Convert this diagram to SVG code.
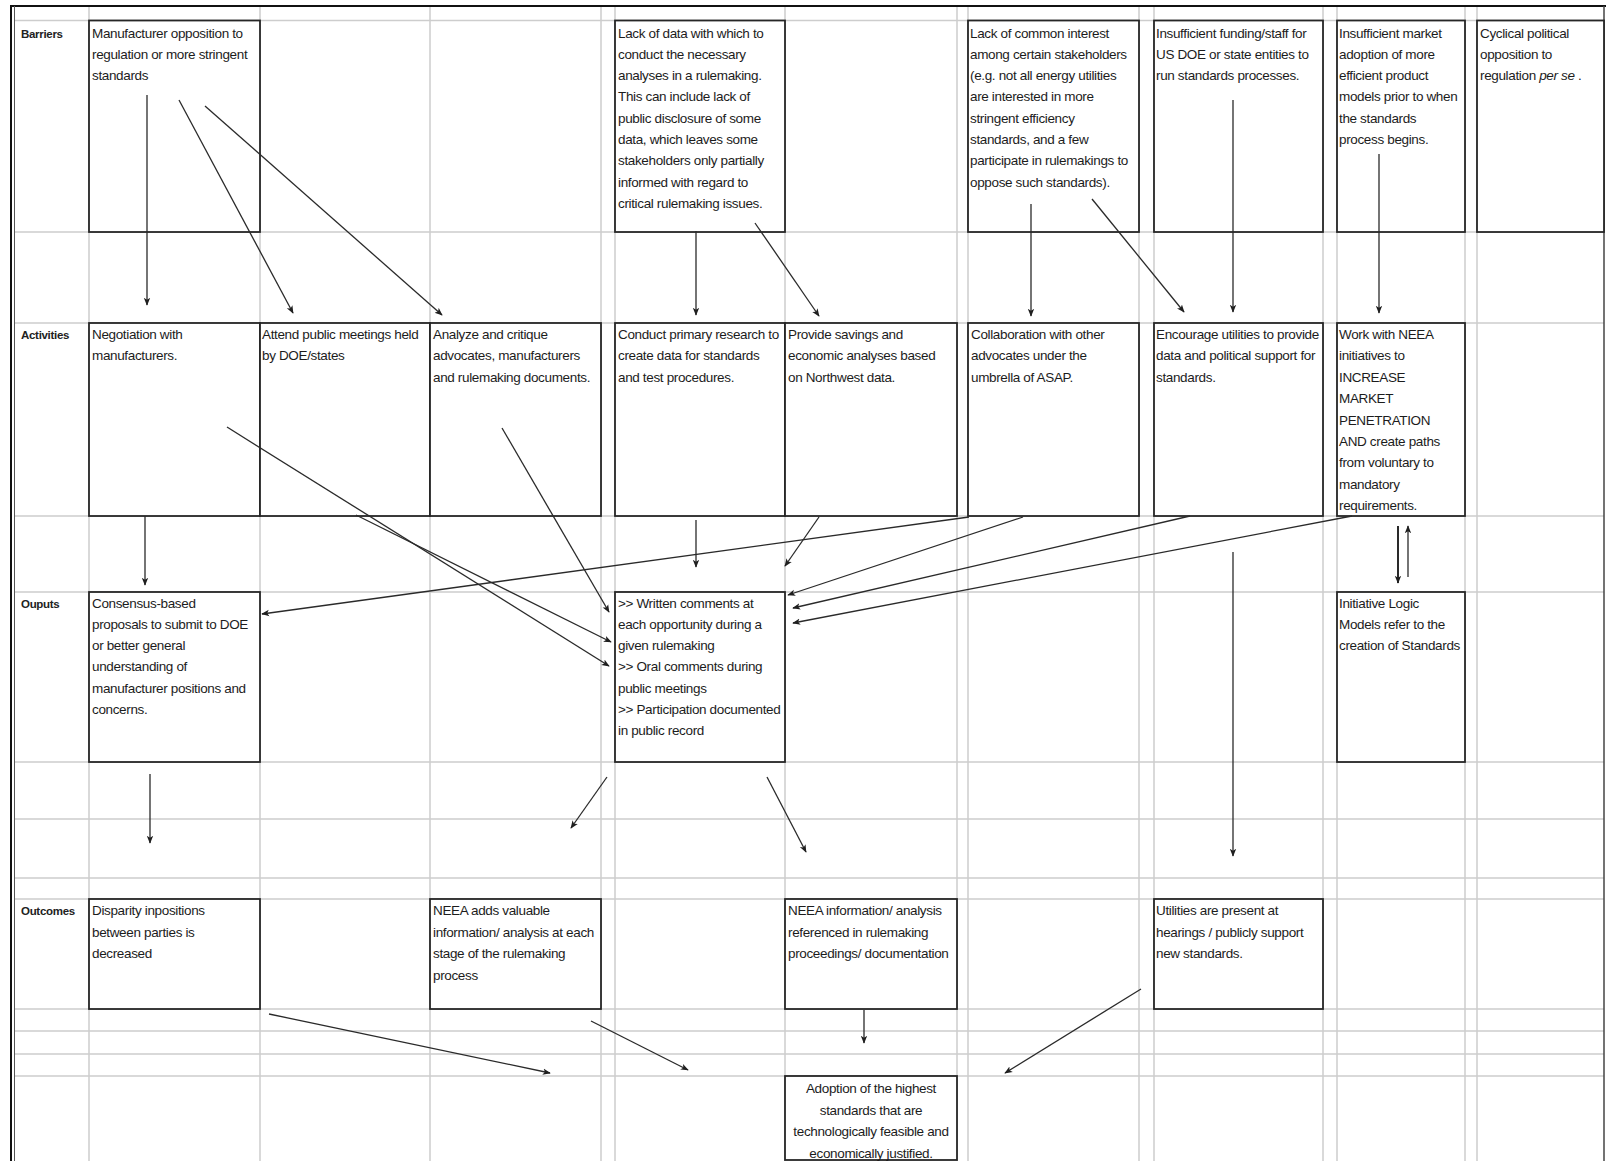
<svg xmlns="http://www.w3.org/2000/svg" width="1606" height="1161" viewBox="0 0 1606 1161">
<style>
.grid line{stroke:#cdcdcd;stroke-width:1.5}
.box{fill:#fff;stroke:#262626;stroke-width:1.8}
.t{font-family:"Liberation Sans",Arial,sans-serif;font-size:13.5px;letter-spacing:-0.35px;fill:#1c1c1c}
.c{text-anchor:middle}
.lbl{font-family:"Liberation Sans",Arial,sans-serif;font-size:11.5px;font-weight:bold;letter-spacing:-0.3px;fill:#222}
.conn line{stroke:#2a2a2a;stroke-width:1.3;fill:none}
.conn line.thick{stroke-width:2}
</style>
<defs>
<marker id="ah" viewBox="0 0 10 10" refX="9" refY="5" markerWidth="8" markerHeight="8" orient="auto" markerUnits="userSpaceOnUse">
<path d="M0,1 L10,5 L0,9 L2.5,5 z" fill="#1f1f1f"/>
</marker>
</defs>
<rect x="0" y="0" width="1606" height="1161" fill="#fff"/>
<g class="grid" id="grid">
<line x1="89" y1="6" x2="89" y2="1161"/>
<line x1="260" y1="6" x2="260" y2="1161"/>
<line x1="430" y1="6" x2="430" y2="1161"/>
<line x1="601" y1="6" x2="601" y2="1161"/>
<line x1="615" y1="6" x2="615" y2="1161"/>
<line x1="785" y1="6" x2="785" y2="1161"/>
<line x1="957" y1="6" x2="957" y2="1161"/>
<line x1="968" y1="6" x2="968" y2="1161"/>
<line x1="1139" y1="6" x2="1139" y2="1161"/>
<line x1="1154" y1="6" x2="1154" y2="1161"/>
<line x1="1323" y1="6" x2="1323" y2="1161"/>
<line x1="1337" y1="6" x2="1337" y2="1161"/>
<line x1="1465" y1="6" x2="1465" y2="1161"/>
<line x1="1477" y1="6" x2="1477" y2="1161"/>
<line x1="14" y1="20.5" x2="1604" y2="20.5"/>
<line x1="14" y1="232" x2="1604" y2="232"/>
<line x1="14" y1="323" x2="1604" y2="323"/>
<line x1="14" y1="516" x2="1604" y2="516"/>
<line x1="14" y1="592" x2="1604" y2="592"/>
<line x1="14" y1="762" x2="1604" y2="762"/>
<line x1="14" y1="819" x2="1604" y2="819"/>
<line x1="14" y1="878" x2="1604" y2="878"/>
<line x1="14" y1="899" x2="1604" y2="899"/>
<line x1="14" y1="1009" x2="1604" y2="1009"/>
<line x1="14" y1="1031" x2="1604" y2="1031"/>
<line x1="14" y1="1054" x2="1604" y2="1054"/>
<line x1="14" y1="1076" x2="1604" y2="1076"/>
</g>
<g id="frame" fill="none">
<line x1="10" y1="6" x2="1606" y2="6" stroke="#111" stroke-width="2"/>
<line x1="11" y1="5" x2="11" y2="1161" stroke="#111" stroke-width="2"/>
<line x1="14.5" y1="6" x2="14.5" y2="1161" stroke="#555" stroke-width="1"/>
<line x1="1604" y1="6" x2="1604" y2="1161" stroke="#444" stroke-width="1.5"/>
</g>
<g id="row-labels" class="lbl">
<text x="21" y="37.5">Barriers</text>
<text x="21" y="338.5">Activities</text>
<text x="21" y="607.5">Ouputs</text>
<text x="21" y="915">Outcomes</text>
</g>
<g id="nodes">
<g id="b1"><rect class="box" x="89" y="20.5" width="171" height="211.5"/>
<text class="t"><tspan x="92" y="37.5">Manufacturer opposition to</tspan><tspan x="92" y="58.8">regulation or more stringent</tspan><tspan x="92" y="80.1">standards</tspan></text></g>
<g id="b2"><rect class="box" x="615" y="20.5" width="170" height="211.5"/>
<text class="t"><tspan x="618" y="37.5">Lack of data with which to</tspan><tspan x="618" y="58.8">conduct the necessary</tspan><tspan x="618" y="80.1">analyses in a rulemaking.</tspan><tspan x="618" y="101.4">This can include lack of</tspan><tspan x="618" y="122.7">public disclosure of some</tspan><tspan x="618" y="144">data, which leaves some</tspan><tspan x="618" y="165.3">stakeholders only partially</tspan><tspan x="618" y="186.6">informed with regard to</tspan><tspan x="618" y="207.9">critical rulemaking issues.</tspan></text></g>
<g id="b3"><rect class="box" x="968" y="20.5" width="171" height="211.5"/>
<text class="t"><tspan x="970" y="37.5">Lack of common interest</tspan><tspan x="970" y="58.8">among certain stakeholders</tspan><tspan x="970" y="80.1">(e.g. not all energy utilities</tspan><tspan x="970" y="101.4">are interested in more</tspan><tspan x="970" y="122.7">stringent efficiency</tspan><tspan x="970" y="144">standards, and a few</tspan><tspan x="970" y="165.3">participate in rulemakings to</tspan><tspan x="970" y="186.6">oppose such standards).</tspan></text></g>
<g id="b4"><rect class="box" x="1154" y="20.5" width="169" height="211.5"/>
<text class="t"><tspan x="1156" y="37.5">Insufficient funding/staff for</tspan><tspan x="1156" y="58.8">US DOE or state entities to</tspan><tspan x="1156" y="80.1">run standards processes.</tspan></text></g>
<g id="b5"><rect class="box" x="1337" y="20.5" width="128" height="211.5"/>
<text class="t"><tspan x="1339" y="37.5">Insufficient market</tspan><tspan x="1339" y="58.8">adoption of more</tspan><tspan x="1339" y="80.1">efficient product</tspan><tspan x="1339" y="101.4">models prior to when</tspan><tspan x="1339" y="122.7">the standards</tspan><tspan x="1339" y="144">process begins.</tspan></text></g>
<g id="b6"><rect class="box" x="1477" y="20.5" width="127" height="211.5"/>
<text class="t"><tspan x="1480" y="37.5">Cyclical political</tspan><tspan x="1480" y="58.8">opposition to</tspan><tspan x="1480" y="80.1">regulation <tspan font-style="italic">per se</tspan> .</tspan></text></g>

<g id="a1"><rect class="box" x="89" y="323" width="171" height="193"/>
<text class="t"><tspan x="92" y="339">Negotiation with</tspan><tspan x="92" y="360.4">manufacturers.</tspan></text></g>
<g id="a2"><rect class="box" x="260" y="323" width="170" height="193"/>
<text class="t"><tspan x="262" y="339">Attend public meetings held</tspan><tspan x="262" y="360.4">by DOE/states</tspan></text></g>
<g id="a3"><rect class="box" x="430" y="323" width="171" height="193"/>
<text class="t"><tspan x="433" y="339">Analyze and critique</tspan><tspan x="433" y="360.4">advocates, manufacturers</tspan><tspan x="433" y="381.8">and rulemaking documents.</tspan></text></g>
<g id="a4"><rect class="box" x="615" y="323" width="170" height="193"/>
<text class="t"><tspan x="618" y="339">Conduct primary research to</tspan><tspan x="618" y="360.4">create data for standards</tspan><tspan x="618" y="381.8">and test procedures.</tspan></text></g>
<g id="a5"><rect class="box" x="785" y="323" width="172" height="193"/>
<text class="t"><tspan x="788" y="339">Provide savings and</tspan><tspan x="788" y="360.4">economic analyses based</tspan><tspan x="788" y="381.8">on Northwest data.</tspan></text></g>
<g id="a6"><rect class="box" x="968" y="323" width="171" height="193"/>
<text class="t"><tspan x="971" y="339">Collaboration with other</tspan><tspan x="971" y="360.4">advocates under the</tspan><tspan x="971" y="381.8">umbrella of ASAP.</tspan></text></g>
<g id="a7"><rect class="box" x="1154" y="323" width="169" height="193"/>
<text class="t"><tspan x="1156" y="339">Encourage utilities to provide</tspan><tspan x="1156" y="360.4">data and political support for</tspan><tspan x="1156" y="381.8">standards.</tspan></text></g>
<g id="a8"><rect class="box" x="1337" y="323" width="128" height="193"/>
<text class="t"><tspan x="1339" y="339">Work with NEEA</tspan><tspan x="1339" y="360.4">initiatives to</tspan><tspan x="1339" y="381.8">INCREASE</tspan><tspan x="1339" y="403.2">MARKET</tspan><tspan x="1339" y="424.6">PENETRATION</tspan><tspan x="1339" y="446">AND create paths</tspan><tspan x="1339" y="467.4">from voluntary to</tspan><tspan x="1339" y="488.8">mandatory</tspan><tspan x="1339" y="510.2">requirements.</tspan></text></g>

<g id="o1"><rect class="box" x="89" y="592" width="171" height="170"/>
<text class="t"><tspan x="92" y="607.5">Consensus-based</tspan><tspan x="92" y="628.8">proposals to submit to DOE</tspan><tspan x="92" y="650.1">or better general</tspan><tspan x="92" y="671.4">understanding of</tspan><tspan x="92" y="692.7">manufacturer positions and</tspan><tspan x="92" y="714">concerns.</tspan></text></g>
<g id="o2"><rect class="box" x="615" y="592" width="170" height="170"/>
<text class="t"><tspan x="618" y="607.5">&gt;&gt; Written comments at</tspan><tspan x="618" y="628.8">each opportunity during a</tspan><tspan x="618" y="650.1">given rulemaking</tspan><tspan x="618" y="671.4">&gt;&gt; Oral comments during</tspan><tspan x="618" y="692.7">public meetings</tspan><tspan x="618" y="714">&gt;&gt; Participation documented</tspan><tspan x="618" y="735.3">in public record</tspan></text></g>
<g id="o3"><rect class="box" x="1337" y="592" width="128" height="170"/>
<text class="t"><tspan x="1339" y="607.5">Initiative Logic</tspan><tspan x="1339" y="628.8">Models refer to the</tspan><tspan x="1339" y="650.1">creation of Standards</tspan></text></g>

<g id="c1"><rect class="box" x="89" y="899" width="171" height="110"/>
<text class="t"><tspan x="92" y="915">Disparity inpositions</tspan><tspan x="92" y="936.5">between parties is</tspan><tspan x="92" y="958">decreased</tspan></text></g>
<g id="c2"><rect class="box" x="430" y="899" width="171" height="110"/>
<text class="t"><tspan x="433" y="915">NEEA adds valuable</tspan><tspan x="433" y="936.5">information/ analysis at each</tspan><tspan x="433" y="958">stage of the rulemaking</tspan><tspan x="433" y="979.5">process</tspan></text></g>
<g id="c3"><rect class="box" x="785" y="899" width="172" height="110"/>
<text class="t"><tspan x="788" y="915">NEEA information/ analysis</tspan><tspan x="788" y="936.5">referenced in  rulemaking</tspan><tspan x="788" y="958">proceedings/ documentation</tspan></text></g>
<g id="c4"><rect class="box" x="1154" y="899" width="169" height="110"/>
<text class="t"><tspan x="1156" y="915">Utilities are present at</tspan><tspan x="1156" y="936.5">hearings / publicly support</tspan><tspan x="1156" y="958">new standards.</tspan></text></g>

<g id="final"><rect class="box" x="785" y="1076" width="172" height="84"/>
<text class="t c"><tspan x="871" y="1093">Adoption of the highest</tspan><tspan x="871" y="1114.5">standards that are</tspan><tspan x="871" y="1136">technologically feasible and</tspan><tspan x="871" y="1157.5">economically justified.</tspan></text></g>
</g>
<g id="connectors" class="conn">
<line x1="147" y1="95" x2="147" y2="305" marker-end="url(#ah)"/>
<line x1="179" y1="100" x2="293" y2="313" marker-end="url(#ah)"/>
<line x1="205" y1="106" x2="442" y2="315" marker-end="url(#ah)"/>
<line x1="696" y1="231" x2="696" y2="315" marker-end="url(#ah)"/>
<line x1="755" y1="223" x2="819" y2="316" marker-end="url(#ah)"/>
<line x1="1031" y1="204" x2="1031" y2="316" marker-end="url(#ah)"/>
<line x1="1092" y1="199" x2="1184" y2="312" marker-end="url(#ah)"/>
<line x1="1233" y1="100" x2="1233" y2="312" marker-end="url(#ah)"/>
<line x1="1379" y1="154" x2="1379" y2="313" marker-end="url(#ah)"/>
<line x1="145" y1="516" x2="145" y2="585" marker-end="url(#ah)"/>
<line x1="227" y1="427" x2="609" y2="666" marker-end="url(#ah)"/>
<line x1="356" y1="515" x2="611" y2="642" marker-end="url(#ah)"/>
<line x1="502" y1="428" x2="609" y2="612" marker-end="url(#ah)"/>
<line x1="696" y1="520" x2="696" y2="567" marker-end="url(#ah)"/>
<line x1="819" y1="517" x2="785" y2="566" marker-end="url(#ah)"/>
<line x1="969" y1="517" x2="262" y2="614" marker-end="url(#ah)"/>
<line x1="1023" y1="517" x2="788" y2="595" marker-end="url(#ah)"/>
<line x1="1190" y1="516" x2="793" y2="608" marker-end="url(#ah)"/>
<line x1="1352" y1="516" x2="793" y2="623" marker-end="url(#ah)"/>
<line class="thick" x1="1398" y1="526" x2="1398" y2="583" marker-end="url(#ah)"/>
<line x1="1408" y1="577" x2="1408" y2="526" marker-end="url(#ah)"/>
<line x1="1233" y1="552" x2="1233" y2="856" marker-end="url(#ah)"/>
<line x1="150" y1="774" x2="150" y2="843" marker-end="url(#ah)"/>
<line x1="607" y1="777" x2="571" y2="828" marker-end="url(#ah)"/>
<line x1="767" y1="777" x2="806" y2="852" marker-end="url(#ah)"/>
<line x1="269" y1="1014" x2="550" y2="1073" marker-end="url(#ah)"/>
<line x1="591" y1="1021" x2="688" y2="1070" marker-end="url(#ah)"/>
<line x1="864" y1="1010" x2="864" y2="1043" marker-end="url(#ah)"/>
<line x1="1141" y1="989" x2="1005" y2="1073" marker-end="url(#ah)"/>
</g>
</svg>
